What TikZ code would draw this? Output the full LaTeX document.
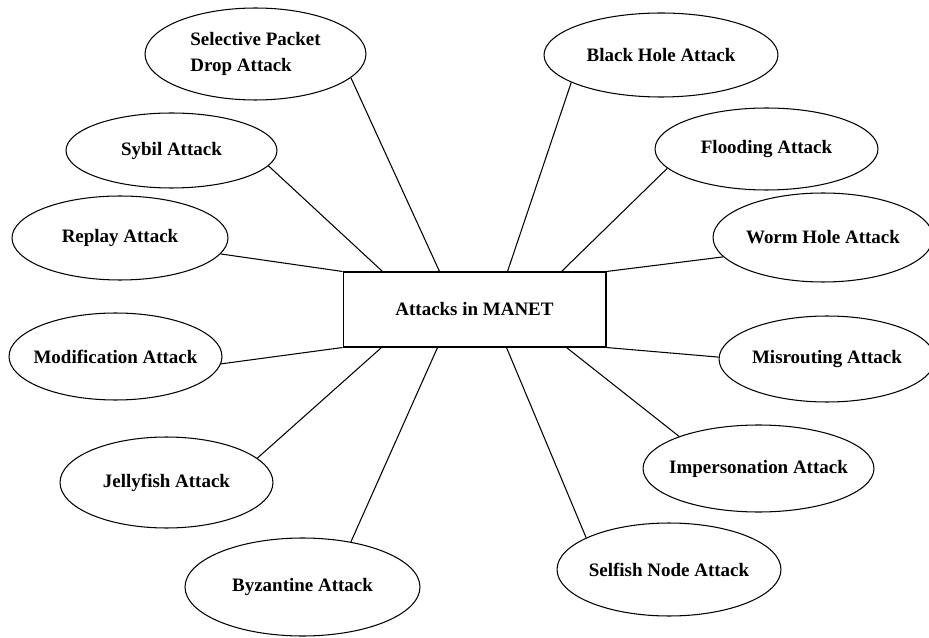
\documentclass[tikz,border=0pt]{standalone}
\usepackage{fontspec}
\setmainfont{Liberation Serif}
\usetikzlibrary{shapes.geometric,calc}

\begin{document}
\begin{tikzpicture}[x=0.02cm, y=-0.02cm, line width=0.6pt,
  atk/.style={ellipse, draw, inner xsep=-0.3cm, inner ysep=0pt, font=\fontsize{10.8}{15}\selectfont\bfseries},
  hub/.style={rectangle, draw, minimum width=5.26cm, minimum height=1.5cm, font=\fontsize{10.8}{15}\selectfont\bfseries}]
\useasboundingbox (0,0) rectangle (929,638);
\node[hub] (manet) at (474.5,309.5){Attacks in MANET};
% left side
\node[atk, minimum width=4.42cm, minimum height=1.84cm, align=left] (atk0) at (255.5,54){Selective Packet\\Drop Attack};
\draw[](atk0.-14) -- ($(manet.north west)+(97,0)$);
\node[atk, minimum width=4.22cm, minimum height=1.5cm] (atk1) at (171.5,150.5){Sybil Attack};
\draw[](atk1.-9.5) -- ($(manet.north west)+(40,0)$);
\node[atk, minimum width=4.32cm, minimum height=1.68cm] (atk2) at (120,238){Replay Attack};
\draw[](atk2.-9.6) -- (manet.north west);
\node[atk, minimum width=4.26cm, minimum height=1.74cm] (atk3) at (115.5,356.5){Modification Attack};
\draw[](atk3.-4) -- (manet.south west);
\node[atk, minimum width=4.26cm, minimum height=1.82cm] (atk4) at (166.5,482.5){Jellyfish Attack};
\draw[](atk4.15) -- ($(manet.south west)+(39,0)$);
\node[atk, minimum width=4.7cm, minimum height=1.96cm] (atk5) at (302.5,587){Byzantine Attack};
\draw[](atk5.43.5) -- ($(manet.south west)+(95,0)$);
% right side
\node[atk, minimum width=4.68cm, minimum height=1.68cm] (atk6) at (661,55){Black Hole Attack};
\draw[](atk6.197.6) -- ($(manet.north west)+(165,0)$);
\node[atk, minimum width=4.46cm, minimum height=1.64cm] (atk7) at (766.5,149){Flooding Attack};
\draw[](atk7.191.7) -- ($(manet.north west)+(219,0)$);
\node[atk, minimum width=4.4cm, minimum height=1.78cm] (atk8) at (823,237.5){Worm Hole Attack};
\draw[](atk8.191) -- (manet.north east);
\node[atk, minimum width=4.32cm, minimum height=1.72cm] (atk9) at (827,359){Misrouting Attack};
\draw[](atk9.179) -- (manet.south east);
\node[atk, minimum width=4.62cm, minimum height=1.74cm] (atk10) at (758.5,468.5){Impersonation Attack};
\draw[](atk10.158.5) -- ($(manet.south west)+(224,0)$);
\node[atk, minimum width=4.48cm, minimum height=1.86cm] (atk11) at (669,569.5){Selfish Node Attack};
\draw[](atk11.159) -- ($(manet.south west)+(164,0)$);
\end{tikzpicture}
\end{document}
